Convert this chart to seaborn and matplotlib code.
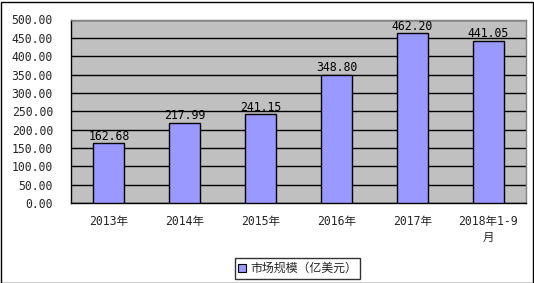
import matplotlib
matplotlib.use("Agg")
import matplotlib.pyplot as plt
import seaborn as sns
import pandas as pd
from matplotlib.patches import Rectangle

categories = ["2013年", "2014年", "2015年", "2016年", "2017年", "2018年1-9\n月"]
values = [162.68, 217.99, 241.15, 348.80, 462.20, 441.05]
yticks = [0, 50, 100, 150, 200, 250, 300, 350, 400, 450, 500]
series_name = "市场规模（亿美元）"

sns.set_theme(style="white")
FAM = ['DejaVu Sans Mono', 'Noto Sans CJK SC']
plt.rcParams['font.family'] = FAM

df = pd.DataFrame({"cat": categories, "val": values, "s": series_name})

fig = plt.figure(figsize=(5.34, 2.83), dpi=100)
ax = fig.add_axes([71/534, 1 - 203/283, (526-71)/534, (203-19.5)/283])
ax.set_facecolor("#C0C0C0")

sns.barplot(data=df, x="cat", y="val", hue="s", palette=["#9999FF"], width=0.41,
            saturation=1, edgecolor="black", linewidth=1.0, ax=ax, legend=False, zorder=3)
for b in ax.patches:
    b.set_zorder(3)

FS = 8.3
ax.set_ylim(0, 500)
ax.set_yticks(yticks)
ax.set_yticklabels([f"{v:.2f}" for v in yticks], fontsize=FS, family=FAM)
ax.yaxis.grid(True, color="black", linewidth=1.0, zorder=1)
ax.set_axisbelow(True)
ax.set_xlim(-0.5, len(categories) - 0.5)
ax.set_xticks(range(len(categories)))
ax.set_xticklabels(categories, fontsize=FS, linespacing=1.3, family=FAM)
ax.tick_params(axis="x", length=0, pad=8.5)
ax.tick_params(axis="y", length=0, pad=13)
ax.set_xticks([i + 0.5 for i in range(len(categories) - 1)], minor=True)
ax.tick_params(axis="x", which="minor", direction="in", length=4, color="black", width=1)
ax.set_xlabel("")
ax.set_ylabel("")

for sp in ["left", "bottom"]:
    ax.spines[sp].set_color("black")
    ax.spines[sp].set_linewidth(1.0)
for sp in ["top", "right"]:
    ax.spines[sp].set_color("#808080")
    ax.spines[sp].set_linewidth(1.0)

for i, v in enumerate(values):
    ax.annotate(f"{v:.2f}", (i, v), xytext=(0, 0.5), textcoords="offset points",
                ha="center", va="bottom", fontsize=FS, family=FAM, color="black", zorder=4)

# legend
handle = Rectangle((0, 0), 1, 1, facecolor="#9999FF", edgecolor="black", linewidth=0.8)
leg = fig.legend([handle], [series_name], loc="center", bbox_to_anchor=(297.5/534, 1 - 268.5/283),
                 frameon=True, prop={"family": FAM, "size": 8.6}, handlelength=0.7, handleheight=0.7,
                 handletextpad=0.3, borderpad=0.3, fancybox=False)
leg.get_frame().set_edgecolor("black")
leg.get_frame().set_linewidth(1.0)

# figure border
fig.patches.append(Rectangle((0.5/534, 0.5/283), 532/534, 281/283, transform=fig.transFigure,
                             fill=False, edgecolor="black", linewidth=1.0))

fig.savefig("out.png", dpi=100)
